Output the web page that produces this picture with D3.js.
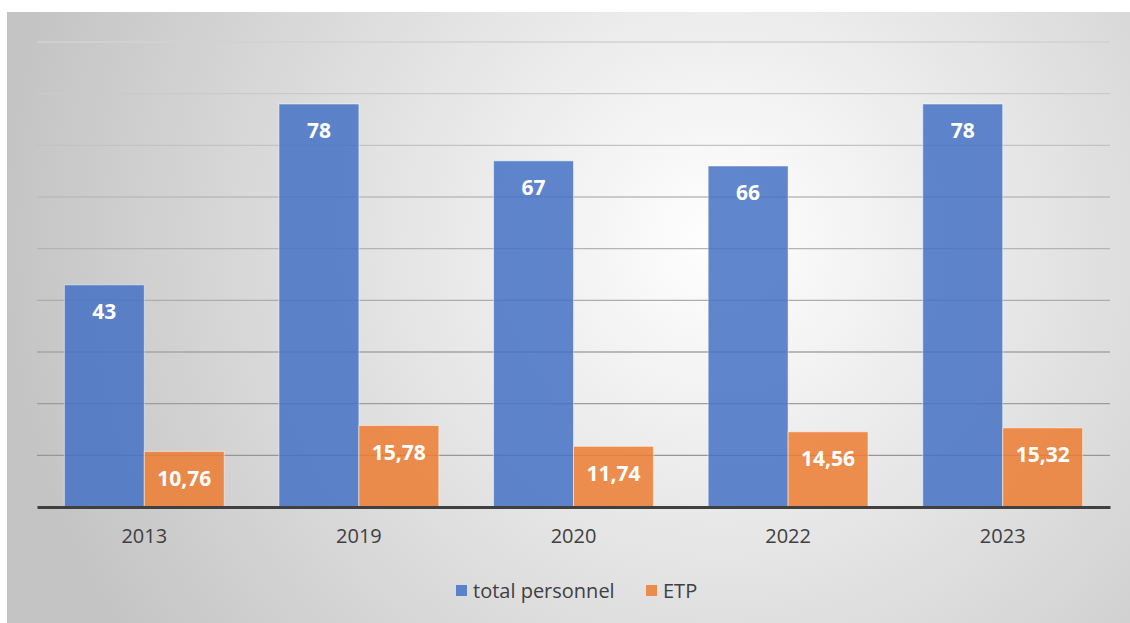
<!DOCTYPE html>
<html>
<head>
<meta charset="utf-8">
<script src="https://cdn.jsdelivr.net/npm/d3@7"></script>
<style>
  html, body { margin: 0; padding: 0; background: #fff; }
  svg { display: block; font-family: "Open Sans", "Liberation Sans", sans-serif; }
</style>
</head>
<body>
<div id="chart"></div>
<script>
(function () {
  const years = ["2013", "2019", "2020", "2022", "2023"];
  const seriesNames = ["total personnel", "ETP"];
  const totalPersonnel = [43, 78, 67, 66, 78];
  const etp = [10.76, 15.78, 11.74, 14.56, 15.32];
  const yTicks = [0, 10, 20, 30, 40, 50, 60, 70, 80, 90];
  const colors = ["#4472C4", "#ED7D31"];

  const W = 1130, H = 623;
  const plot = { left: 37, right: 1110, top: 42, bottom: 507 };

  const rows = years.map((y, i) => ({ year: y, values: [totalPersonnel[i], etp[i]] }));

  const svg = d3.select("#chart").append("svg")
    .attr("width", W)
    .attr("height", H);

  // radial background like the office chart style
  const defs = svg.append("defs");
  const grad = defs.append("radialGradient")
    .attr("id", "bg")
    .attr("gradientUnits", "userSpaceOnUse")
    .attr("cx", 720).attr("cy", 240).attr("r", 720);
  grad.append("stop").attr("offset", "0%").attr("stop-color", "#ffffff");
  grad.append("stop").attr("offset", "100%").attr("stop-color", "#c4c4c4");

  svg.append("rect")
    .attr("x", 7).attr("y", 12)
    .attr("width", W - 7).attr("height", H - 12)
    .attr("fill", "url(#bg)");

  const y = d3.scaleLinear().domain([0, 90]).range([plot.bottom, plot.top]);
  const x0 = d3.scaleBand().domain(years).range([plot.left, plot.right])
    .paddingInner(0.255).paddingOuter(0.1275);
  const x1 = d3.scaleBand().domain(seriesNames).range([0, x0.bandwidth()]);

  // gridlines, darker towards the bottom
  const gridColor = d3.scaleLinear().domain([0, 90]).range(["#8e8e8e", "#d2d2d2"]);
  svg.append("g")
    .selectAll("line")
    .data(yTicks.filter(t => t > 0))
    .join("line")
    .attr("x1", plot.left).attr("x2", plot.right)
    .attr("y1", d => y(d)).attr("y2", d => y(d))
    .attr("stroke", d => gridColor(d))
    .attr("stroke-width", 1.3);

  // bars
  const groups = svg.append("g")
    .selectAll("g")
    .data(rows)
    .join("g")
    .attr("transform", d => `translate(${x0(d.year)},0)`);

  groups.selectAll("rect")
    .data(d => d.values.map((v, i) => ({ key: seriesNames[i], value: v, i })))
    .join("rect")
    .attr("x", d => x1(d.key))
    .attr("y", d => y(d.value))
    .attr("width", x1.bandwidth())
    .attr("height", d => y(0) - y(d.value))
    .attr("fill", d => colors[d.i])
    .attr("fill-opacity", 0.85)
    .attr("stroke", "#ffffff")
    .attr("stroke-opacity", 0.5)
    .attr("stroke-width", 1);

  // value labels, inside end
  const fmt = v => Number.isInteger(v) ? String(v) : v.toFixed(2).replace(".", ",");
  groups.selectAll("text")
    .data(d => d.values.map((v, i) => ({ key: seriesNames[i], value: v })))
    .join("text")
    .attr("x", d => x1(d.key) + x1.bandwidth() / 2)
    .attr("y", d => y(d.value) + 27)
    .attr("dy", "0.35em")
    .attr("text-anchor", "middle")
    .attr("fill", "#ffffff")
    .attr("font-weight", "bold")
    .attr("font-size", 21)
    .text(d => fmt(d.value));

  // x axis
  const xAxis = svg.append("g")
    .attr("transform", `translate(0,${plot.bottom})`)
    .call(d3.axisBottom(x0).tickSize(0).tickPadding(22));
  xAxis.select(".domain")
    .attr("stroke", "#404040")
    .attr("stroke-width", 3);
  xAxis.selectAll(".tick text")
    .attr("fill", "#404040")
    .attr("font-size", 20)
    .attr("font-family", "\"Open Sans\", \"Liberation Sans\", sans-serif");

  // legend
  const legend = svg.append("g").attr("transform", "translate(456,591)");
  const legendX = [0, 190];
  seriesNames.forEach((name, i) => {
    const g = legend.append("g").attr("transform", `translate(${legendX[i]},0)`);
    g.append("rect")
      .attr("x", 0).attr("y", -6)
      .attr("width", 11).attr("height", 11)
      .attr("fill", colors[i])
      .attr("fill-opacity", 0.85);
    g.append("text")
      .attr("x", 17).attr("y", 0)
      .attr("dy", "0.35em")
      .attr("fill", "#404040")
      .attr("font-size", 20)
      .text(name);
  });
})();
</script>
</body>
</html>
